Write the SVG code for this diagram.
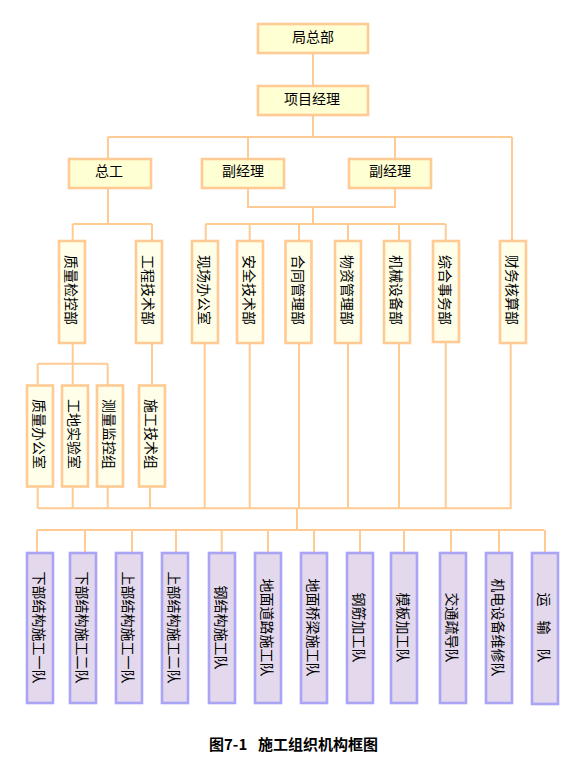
<svg xmlns="http://www.w3.org/2000/svg" width="581" height="770" viewBox="0 0 581 770">
<style>
.hb{fill:#FFFFD4;stroke:#FFCA93;stroke-width:2.6}
.vb{fill:#FFFFE9;stroke:#FFCA93;stroke-width:2.6}
.pb{fill:#E4D8EC;stroke:#A9A4F4;stroke-width:2.6}
.t{font-family:"Noto Sans CJK SC","Noto Sans",sans-serif;font-size:14px;fill:#000;text-anchor:middle;dominant-baseline:central}
.c{fill:none;stroke:#FFCA93;stroke-width:2}
.cap{font-family:"Noto Sans CJK SC","Noto Sans",sans-serif;font-size:15px;font-weight:bold;fill:#000;dominant-baseline:central}
</style>
<rect width="581" height="770" fill="#fff"/>
<g id="connectors" class="c">
<path d="M313 53V86M313 115V137M108 137H512M108 137V159M248 137V159M395 137V159M512 137V241"/>
<path d="M108 188V224M72.7 224H152M72.7 224V241M152 224V241"/>
<path d="M248 188V207H395V188M313 207V224M205.7 224H445.7M205.7 224V241M249.7 224V241M299 224V241M348 224V241M399 224V241M445.7 224V241"/>
<path d="M72.7 343V363.7M37.7 363.7H107.7M37.7 363.7V385.5M72.7 363.7V385.5M107.7 363.7V385.5M152 343V385.5"/>
<path d="M37.7 486.5V508.3M72.7 486.5V508.3M107.7 486.5V508.3M150 486.5V508.3M204.7 343V508.3M249.7 343V508.3M299 343V508.3M348 343V508.3M399 343V508.3M445.7 342V508.3M510.7 343V508.3M37.7 508.3H511.7"/>
<path d="M297 508.3V530M37 530H544M37 530V553M85 530V553M132 530V553M176 530V553M221.7 530V553M268 530V553M314 530V553M360 530V553M404 530V553M451 530V553M499 530V553M545 530V553"/>
</g>
<g id="n-juzongbu"><rect class="hb" x="258" y="24" width="110" height="29"/><text class="t" x="313" y="36">局总部</text></g>
<g id="n-xiangmujingli"><rect class="hb" x="258" y="86" width="110" height="29"/><text class="t" x="312" y="98">项目经理</text></g>
<g id="n-zonggong"><rect class="hb" x="69" y="159" width="82" height="29"/><text class="t" x="109" y="170">总工</text></g>
<g id="n-fujingli1"><rect class="hb" x="202" y="159" width="82" height="29"/><text class="t" x="243" y="170">副经理</text></g>
<g id="n-fujingli2"><rect class="hb" x="349" y="159" width="82" height="29"/><text class="t" x="390" y="170">副经理</text></g>

<g id="n-zhiliangjiankong"><rect class="vb" x="59" y="241" width="26" height="102"/><text class="t" transform="translate(72 290) rotate(90)">质量检控部</text></g>
<g id="n-gongchengjishu"><rect class="vb" x="136" y="241" width="26" height="102"/><text class="t" transform="translate(149 290) rotate(90)">工程技术部</text></g>
<g id="n-xianchang"><rect class="vb" x="192" y="241" width="26" height="102"/><text class="t" transform="translate(205 290) rotate(90)">现场办公室</text></g>
<g id="n-anquan"><rect class="vb" x="237" y="241" width="26" height="102"/><text class="t" transform="translate(250 290) rotate(90)">安全技术部</text></g>
<g id="n-hetong"><rect class="vb" x="285.5" y="241" width="26" height="102"/><text class="t" transform="translate(298.5 290) rotate(90)">合同管理部</text></g>
<g id="n-wuzi"><rect class="vb" x="335" y="241" width="26" height="102"/><text class="t" transform="translate(348 290) rotate(90)">物资管理部</text></g>
<g id="n-jixie"><rect class="vb" x="384" y="241" width="26" height="102"/><text class="t" transform="translate(397 290) rotate(90)">机械设备部</text></g>
<g id="n-zonghe"><rect class="vb" x="433" y="241" width="26" height="101"/><text class="t" transform="translate(446 290) rotate(90)">综合事务部</text></g>
<g id="n-caiwu"><rect class="vb" x="500" y="241" width="26" height="102"/><text class="t" transform="translate(513 290) rotate(90)">财务核算部</text></g>

<g id="n-zhiliangban"><rect class="vb" x="27" y="385.5" width="26" height="101"/><text class="t" transform="translate(40 434) rotate(90)">质量办公室</text></g>
<g id="n-gongdi"><rect class="vb" x="62" y="385.5" width="26" height="101"/><text class="t" transform="translate(75 434) rotate(90)">工地实验室</text></g>
<g id="n-celiang"><rect class="vb" x="97" y="385.5" width="26" height="101"/><text class="t" transform="translate(110 434) rotate(90)">测量监控组</text></g>
<g id="n-shigongjishu"><rect class="vb" x="139" y="385.5" width="26" height="101"/><text class="t" transform="translate(152 434) rotate(90)">施工技术组</text></g>

<g id="n-d1"><rect class="pb" x="27" y="553" width="26" height="150"/><text class="t" transform="translate(40 627.5) rotate(90)">下部结构施工一队</text></g>
<g id="n-d2"><rect class="pb" x="70" y="553" width="26" height="150"/><text class="t" transform="translate(83 627.5) rotate(90)">下部结构施工二队</text></g>
<g id="n-d3"><rect class="pb" x="116" y="553" width="26" height="150"/><text class="t" transform="translate(129 627.5) rotate(90)">上部结构施工一队</text></g>
<g id="n-d4"><rect class="pb" x="162" y="553" width="26" height="150"/><text class="t" transform="translate(175 627.5) rotate(90)">上部结构施工二队</text></g>
<g id="n-d5"><rect class="pb" x="209" y="553" width="26" height="150"/><text class="t" transform="translate(222 627.5) rotate(90)">钢结构施工队</text></g>
<g id="n-d6"><rect class="pb" x="255" y="553" width="26" height="150"/><text class="t" transform="translate(268 627.5) rotate(90)">地面道路施工队</text></g>
<g id="n-d7"><rect class="pb" x="301" y="553" width="26" height="150"/><text class="t" transform="translate(314 627.5) rotate(90)">地面桥梁施工队</text></g>
<g id="n-d8"><rect class="pb" x="347" y="553" width="26" height="150"/><text class="t" transform="translate(360 627.5) rotate(90)">钢筋加工队</text></g>
<g id="n-d9"><rect class="pb" x="391" y="553" width="26" height="150"/><text class="t" transform="translate(404 627.5) rotate(90)">模板加工队</text></g>
<g id="n-d10"><rect class="pb" x="440" y="553" width="26" height="150"/><text class="t" transform="translate(453 627.5) rotate(90)">交通疏导队</text></g>
<g id="n-d11"><rect class="pb" x="486" y="553" width="26" height="150"/><text class="t" transform="translate(499 627.5) rotate(90)">机电设备维修队</text></g>
<g id="n-d12"><rect class="pb" x="532" y="553" width="26" height="151"/><text class="t" transform="translate(545 627.5) rotate(90)">运<tspan dx="14">输</tspan><tspan dx="14">队</tspan></text></g>

<text class="cap" y="743"><tspan x="209">图7-1</tspan><tspan x="258">施工组织机构框图</tspan></text>
</svg>
